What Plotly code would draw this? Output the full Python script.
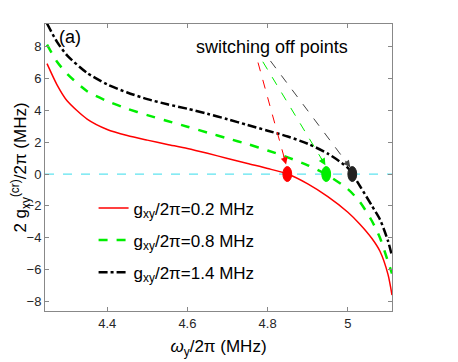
import plotly.graph_objects as go

# omega_y / 2pi (MHz)
wy = [4.25, 4.275, 4.30, 4.35, 4.40, 4.45, 4.50, 4.55, 4.60, 4.65, 4.70,
      4.75, 4.80, 4.85, 4.90, 4.95, 5.00, 5.03, 5.06, 5.08, 5.10, 5.11]

# 2 g_xy^(cr) / 2pi (MHz)
g_02 = [6.93, 5.6, 4.6, 3.45, 2.8, 2.42, 2.13, 1.86, 1.6, 1.3, 0.98,
        0.66, 0.35, 0.0, -0.62, -1.42, -2.4, -3.15, -4.05, -4.85, -6.3, -7.6]
g_08 = [8.12, 7.05, 6.3, 5.2, 4.58, 4.1, 3.7, 3.33, 2.97, 2.6, 2.24,
        1.88, 1.48, 1.05, 0.55, -0.08, -0.95, -1.75, -2.95, -4.0, -5.5, -6.25]
g_14 = [9.45, 8.3, 7.45, 6.35, 5.63, 5.12, 4.7, 4.38, 4.1, 3.78, 3.44,
        3.08, 2.72, 2.36, 1.9, 1.28, 0.38, -0.75, -2.0, -2.85, -4.2, -5.15]

labels = ["g<sub>xy</sub>/2\u03c0=0.2 MHz",
          "g<sub>xy</sub>/2\u03c0=0.8 MHz",
          "g<sub>xy</sub>/2\u03c0=1.4 MHz"]
colors = ["#ff0000", "#00ee00", "#000000"]
dashes = ["solid", "dash", "dashdot"]
widths = [1.5, 2.5, 2.5]

# switching off points
off_x = [4.849, 4.946, 5.011]
off_y = [0, 0, 0]
dot_colors = ["#ff0000", "#00ee00", "#222222"]
# where the dashed arrows start (below the text) and end
arrow_x0 = [4.776, 4.788, 4.807]
arrow_y0 = [7.0, 7.05, 7.1]
arrow_x1 = [4.846, 4.944, 5.006]
arrow_y1 = [0.6, 0.55, 0.42]

fig = go.Figure()

fig.add_trace(go.Scatter(x=[4.245, 5.11], y=[0, 0], mode="lines",
                         line=dict(color="#5fe3f0", width=1.2, dash="dash"),
                         showlegend=False, hoverinfo="skip"))

for k, (ys, name, c, d, w) in enumerate(zip([g_02, g_08, g_14], labels, colors, dashes, widths)):
    fig.add_trace(go.Scatter(x=wy, y=ys, name=name, mode="lines", legendgroup="g%d" % k,
                             line=dict(color=c, dash=d, width=w, shape="spline", smoothing=0.7)))

shapes = []
annos = []
for i in range(3):
    shapes.append(dict(type="circle", xref="x", yref="y",
                       x0=off_x[i] - 0.011, x1=off_x[i] + 0.011,
                       y0=off_y[i] - 0.47, y1=off_y[i] + 0.47,
                       fillcolor=dot_colors[i], line=dict(color=dot_colors[i], width=1)))
    c = colors[i] if i < 2 else "#444444"
    fig.add_trace(go.Scatter(x=[arrow_x0[i], arrow_x1[i]], y=[arrow_y0[i], arrow_y1[i]],
                             mode="lines", line=dict(color=c, width=1, dash="dash"),
                             showlegend=False, hoverinfo="skip"))
    # short arrow only for the head, pointing along the dashed line
    dxp = (arrow_x1[i] - arrow_x0[i]) * 401.7
    dyp = (arrow_y0[i] - arrow_y1[i]) * 15.94
    n = (dxp ** 2 + dyp ** 2) ** 0.5
    annos.append(dict(x=arrow_x1[i], y=arrow_y1[i], xref="x", yref="y",
                      ax=-dxp / n * 10, ay=-dyp / n * 10,
                      showarrow=True, arrowhead=2, arrowsize=1.4, arrowwidth=1,
                      arrowcolor=c, text=""))

annos.append(dict(x=4.81, y=7.95, xref="x", yref="y", text="switching off points",
                  showarrow=False, font=dict(size=18, color="black")))
annos.append(dict(x=4.307, y=8.6, xref="x", yref="y", text="(a)",
                  showarrow=False, font=dict(size=18, color="black")))

# page body has an 8px margin, so the figure is a bit smaller and shifted
fig.update_layout(
    width=450, height=354,
    margin=dict(l=37, r=66, t=16, b=51),
    paper_bgcolor="white", plot_bgcolor="white",
    font=dict(family="Liberation Sans, Arial", size=13, color="#262626"),
    shapes=shapes, annotations=annos,
    legend=dict(x=0.14, y=0.42, xanchor="left", yanchor="top",
                bgcolor="rgba(0,0,0,0)", font=dict(size=17, color="black"),
                tracegroupgap=7),
    showlegend=True,
)
fig.update_xaxes(range=[4.245, 5.11], tickvals=[4.4, 4.6, 4.8, 5.0],
                 ticktext=["4.4", "4.6", "4.8", "5"], automargin=False,
                 showline=True, linecolor="#888888", linewidth=1, mirror="ticks",
                 ticks="inside", ticklen=4, tickcolor="#888888", showgrid=False,
                 zeroline=False,
                 title=dict(text="<i>\u03c9</i><sub>y</sub>/2\u03c0 (MHz)",
                            font=dict(size=17, color="black"), standoff=10))
fig.update_yaxes(range=[-8.6, 9.42], tickvals=[-8, -6, -4, -2, 0, 2, 4, 6, 8],
                 automargin=False,
                 showline=True, linecolor="#888888", linewidth=1, mirror="ticks",
                 ticks="inside", ticklen=4, tickcolor="#888888", showgrid=False,
                 zeroline=False,
                 title=dict(text="2 g<sub>xy</sub><sup>(cr)</sup>/2\u03c0 (MHz)",
                            font=dict(size=17, color="black"), standoff=2))

fig.write_html("out.html")
